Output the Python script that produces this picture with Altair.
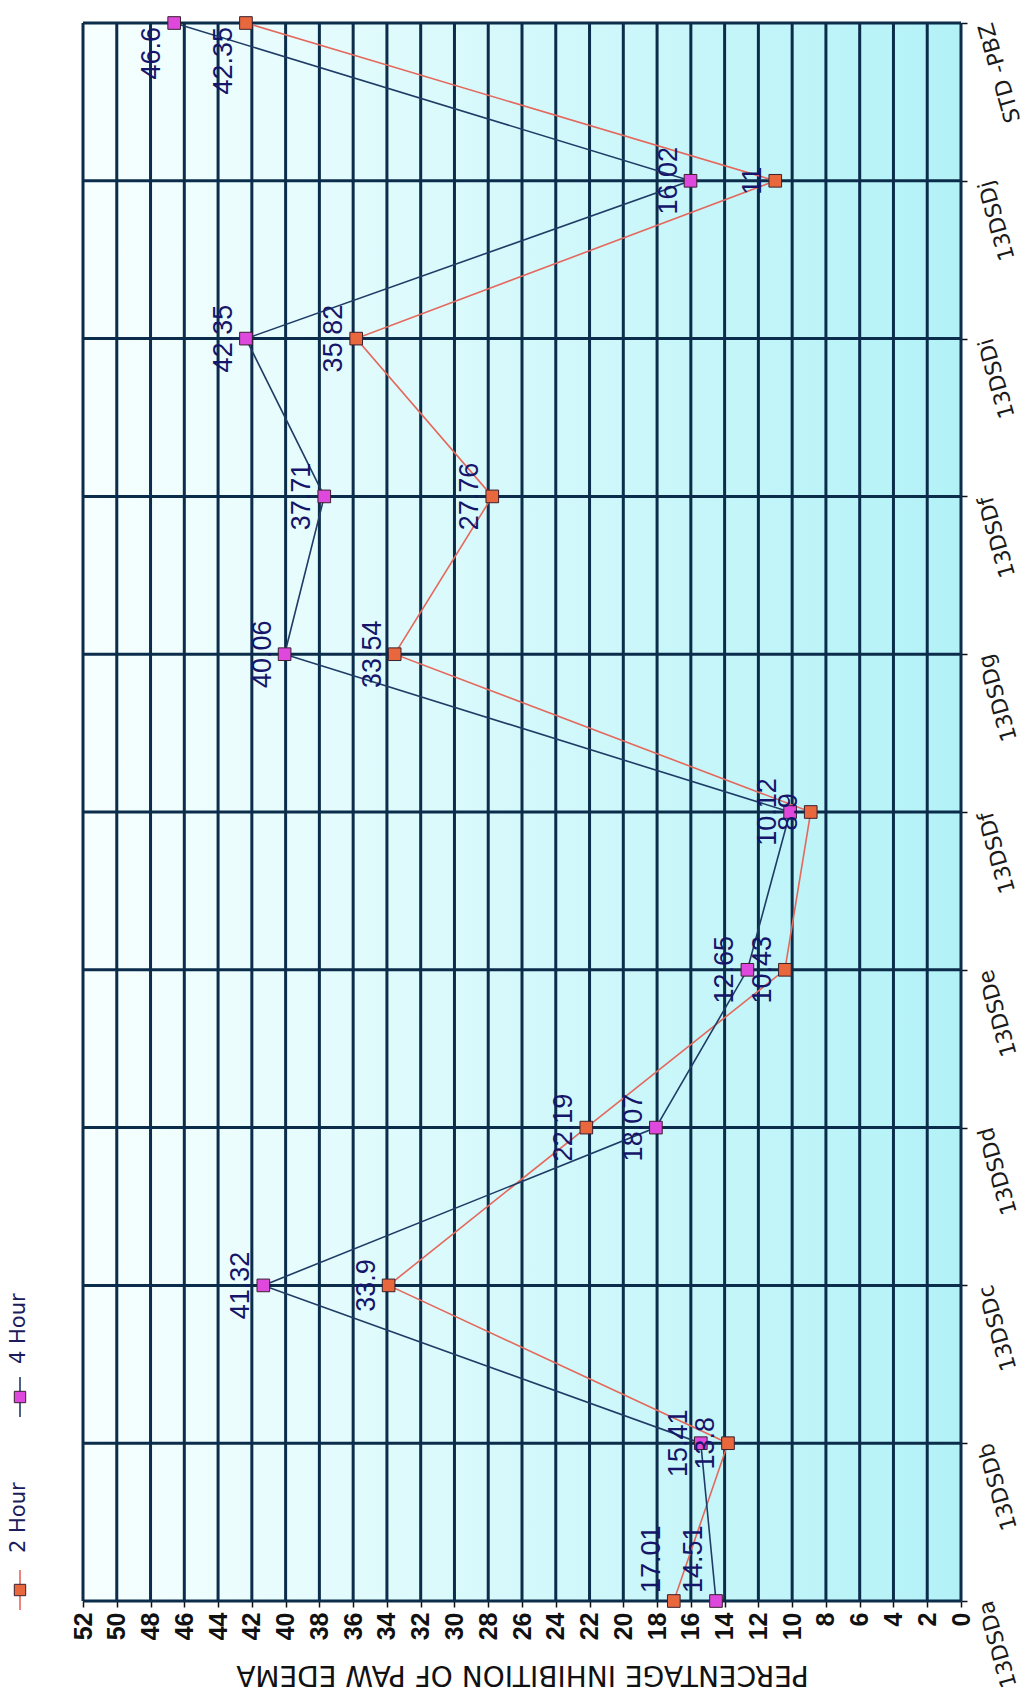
import json
import altair as alt
import pandas as pd

# ---------------- data ----------------
categories = ["13DSDa", "13DSDb", "13DSDc", "13DSDd", "13DSDe", "13DSDf",
              "13DSDg", "13DSDf", "13DSDi", "13DSDj", "STD -PBZ"]
series_names = ["2 Hour", "4 Hour"]
hour2 = [17.01, 13.8, 33.9, 22.19, 10.43, 8.9, 33.54, 27.76, 35.82, 11, 42.35]
hour4 = [14.51, 15.41, 41.32, 18.07, 12.65, 10.12, 40.06, 37.71, 42.35, 16.02, 46.6]
value_ticks = list(range(0, 54, 2))
category_ticks = list(range(len(categories)))

rows = []
for s, vals in zip(series_names, [hour2, hour4]):
    for i, (c, v) in enumerate(zip(categories, vals)):
        rows.append({"idx": i, "category": c, "series": s, "value": v, "label": f"{v:g}"})
df = pd.DataFrame(rows)
last_idx = len(categories) - 1

# ---------------- style ----------------
line_colors = ["#e4685c", "#1f3c66"]
marker_colors = ["#e8673c", "#de48dc"]
grid_color = "#0b2c4a"
label_color = "#15156a"

x_scale = alt.Scale(domain=[0, 52], reverse=True, nice=False, zero=True)
y_scale = alt.Scale(domain=[0, last_idx], nice=False, zero=False)

label_expr = json.dumps(categories) + "[datum.value]"

x_axis = alt.Axis(
    values=value_ticks,
    title="PERCENTAGE INHIBITION OF PAW EDEMA",
    titleAngle=180, titleFont="DejaVu Sans", titleFontSize=28,
    titleFontWeight="normal", titleColor="#111111",
    titleBaseline="alphabetic", titleY=64, titleAlign="center",
    labelAngle=270, labelAlign="right", labelBaseline="middle",
    labelFont="Liberation Sans", labelFontSize=25, labelFontWeight="bold",
    labelColor="#111111", labelPadding=5, labelFlush=False, labelOverlap=False,
    tickSize=6, tickColor="#111111", tickWidth=1.5,
    domain=False, grid=False)

y_axis = alt.Axis(
    orient="right", values=category_ticks, labelExpr=label_expr, title=None,
    labelAngle=254, labelAlign="right", labelBaseline="middle",
    labelFont="DejaVu Sans", labelFontSize=22, labelColor="#1a1a1a",
    labelPadding=18, labelFlush=False, labelOverlap=False,
    tickSize=6, tickColor="#111111", tickWidth=1.5,
    domain=False, grid=False)

X = lambda f: alt.X(f, scale=x_scale, axis=x_axis)
Y = lambda f: alt.Y(f, scale=y_scale, axis=y_axis)

# background gradient
bg = alt.Chart(pd.DataFrame({"a": [0]})).mark_rect(
    fill=alt.LinearGradient(
        gradient="linear",
        stops=[alt.GradientStop(color="#f7ffff", offset=0),
               alt.GradientStop(color="#b2f2f7", offset=1)],
        x1=0, x2=1, y1=0, y2=0),
    strokeWidth=0,
).encode(
    x=alt.X(datum=52, scale=x_scale, axis=x_axis),
    x2=alt.datum(0),
    y=alt.Y(datum=0, scale=y_scale, axis=y_axis),
    y2=alt.datum(last_idx),
)

# vertical grid lines (value ticks)
xrules = alt.Chart(pd.DataFrame({"value": value_ticks})).mark_rule(
    color=grid_color, strokeWidth=3
).encode(x=X("value:Q"))

# horizontal grid lines (categories)
yrules = alt.Chart(pd.DataFrame({"idx": category_ticks})).mark_rule(
    color=grid_color, strokeWidth=3
).encode(y=Y("idx:Q"))

base = alt.Chart(df).encode(x=X("value:Q"), y=Y("idx:Q"))

lines = base.mark_line(strokeWidth=1.6).encode(
    stroke=alt.Stroke("series:N", scale=alt.Scale(domain=series_names, range=line_colors), legend=None),
    order=alt.Order("idx:Q"),
)

points = base.mark_point(shape="square", filled=True, size=160, opacity=1,
                         stroke="#3a2030", strokeWidth=1).encode(
    fill=alt.Fill("series:N", scale=alt.Scale(domain=series_names, range=marker_colors), legend=None),
)

text_style = dict(angle=270, baseline="alphabetic", dy=-14, font="Liberation Sans",
                  fontSize=27, color=label_color)
labels_mid = base.mark_text(align="center", **text_style).encode(text="label:N").transform_filter(
    (alt.datum.idx > 0) & (alt.datum.idx < last_idx))
labels_first = base.mark_text(align="left", dx=8, **text_style).encode(text="label:N").transform_filter(
    alt.datum.idx == 0)
labels_last = base.mark_text(align="right", dx=-4, **text_style).encode(text="label:N").transform_filter(
    alt.datum.idx == last_idx)

# hand-made rotated legend (left margin)
legend_layers = []
legend_pos = {"2 Hour": (1567, 1530), "4 Hour": (1374, 1341)}
for s, lc, mc in zip(series_names, line_colors, marker_colors):
    my, ty = legend_pos[s]
    d = pd.DataFrame({"series": [s]})
    legend_layers.append(alt.Chart(d).mark_rule(color=lc, strokeWidth=1.6).encode(
        x=alt.value(-63), y=alt.value(my - 20), y2=alt.value(my + 20)))
    legend_layers.append(alt.Chart(d).mark_point(shape="square", filled=True, size=130, opacity=1,
                                                 color=mc, stroke="#3a2030", strokeWidth=1).encode(
        x=alt.value(-63), y=alt.value(my)))
    legend_layers.append(alt.Chart(d).mark_text(angle=270, align="left", baseline="middle",
                                                font="DejaVu Sans", fontSize=21,
                                                color="#1c1c5c").encode(
        x=alt.value(-64), y=alt.value(ty), text="series:N"))

chart = alt.layer(
    bg, xrules, yrules, lines, points, labels_mid, labels_first, labels_last, *legend_layers
).properties(
    width=878, height=1578,
    autosize=alt.AutoSizeParams(type="none"),
    padding={"left": 83, "top": 23, "right": 71, "bottom": 90},
    background="white",
).configure_view(stroke=None)

chart.save("out.html", embed_options={"renderer": "svg", "actions": False})
